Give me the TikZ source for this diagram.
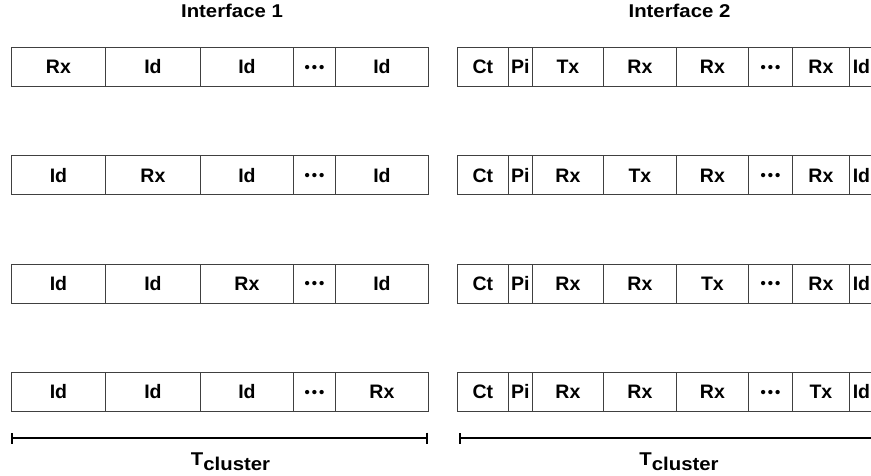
\documentclass[tikz,border=0pt]{standalone}
\usepackage{fontspec}
\setmainfont{Liberation Sans}
\newfontfamily\widefont{Liberation Sans}[FakeStretch=1.1]
\usetikzlibrary{arrows.meta}
\newcommand\ellipsisdots{\raisebox{1.5pt}{\fontsize{15}{15}\selectfont\textbullet\hspace{2pt}\textbullet\hspace{2pt}\textbullet}}
\begin{document}
\begin{tikzpicture}[x=1pt,y=-1pt,
  cell/.style={draw=black!75, line width=0.9pt, minimum height=39pt, inner sep=0pt,
    text height=14pt, text depth=0pt,
    anchor=north west, font=\fontsize{19.5}{19.5}\selectfont\bfseries},
  heading/.style={anchor=base, font=\widefont\fontsize{18.5}{18.5}\selectfont\bfseries},
  span/.style={line width=1.8pt, {Bar[width=11pt,line width=1.8pt]}-{Bar[width=11pt,line width=1.8pt]}}]
\useasboundingbox (0,0) rectangle (871,476);
\clip (0,0) rectangle (871,476);

% headings
\node[heading] (h1) at (232,18) {Interface 1};
\node[heading] (h2) at (679.5,18) {Interface 2};

% Interface 1 frames
\foreach \x/\w/\t [count=\k] in {11/94/Rx, 105/95/Id, 200/93/Id, 293/42/\ellipsisdots, 335/93/Id}
  \node[cell, minimum width=\w pt] (a1c\k) at (\x,47) {\t};
\foreach \x/\w/\t [count=\k] in {11/94/Id, 105/95/Rx, 200/93/Id, 293/42/\ellipsisdots, 335/93/Id}
  \node[cell, minimum width=\w pt] (a2c\k) at (\x,155.5) {\t};
\foreach \x/\w/\t [count=\k] in {11/94/Id, 105/95/Id, 200/93/Rx, 293/42/\ellipsisdots, 335/93/Id}
  \node[cell, minimum width=\w pt] (a3c\k) at (\x,263.5) {\t};
\foreach \x/\w/\t [count=\k] in {11/94/Id, 105/95/Id, 200/93/Id, 293/42/\ellipsisdots, 335/93/Rx}
  \node[cell, minimum width=\w pt] (a4c\k) at (\x,372) {\t};

% Interface 2 frames
\foreach \x/\w/\t [count=\k] in {457/51/Ct, 508/24/Pi, 532/71/Tx, 603/73/Rx, 676/72/Rx, 748/44/\ellipsisdots, 792/57/Rx, 849/24/Id}
  \node[cell, minimum width=\w pt] (b1c\k) at (\x,47) {\t};
\foreach \x/\w/\t [count=\k] in {457/51/Ct, 508/24/Pi, 532/71/Rx, 603/73/Tx, 676/72/Rx, 748/44/\ellipsisdots, 792/57/Rx, 849/24/Id}
  \node[cell, minimum width=\w pt] (b2c\k) at (\x,155.5) {\t};
\foreach \x/\w/\t [count=\k] in {457/51/Ct, 508/24/Pi, 532/71/Rx, 603/73/Rx, 676/72/Tx, 748/44/\ellipsisdots, 792/57/Rx, 849/24/Id}
  \node[cell, minimum width=\w pt] (b3c\k) at (\x,263.5) {\t};
\foreach \x/\w/\t [count=\k] in {457/51/Ct, 508/24/Pi, 532/71/Rx, 603/73/Rx, 676/72/Rx, 748/44/\ellipsisdots, 792/57/Tx, 849/24/Id}
  \node[cell, minimum width=\w pt] (b4c\k) at (\x,372) {\t};

% cluster duration spans
\coordinate (s1a) at (11,438);
\coordinate (s1b) at (428,438);
\coordinate (s2a) at (459,438);
\coordinate (s2b) at (880,438);
\draw[span] (s1a) -- (s1b);
\draw[line width=1.8pt, {Bar[width=11pt,line width=1.8pt]}-] (s2a) -- (s2b);

\node[heading] (t1) at (230.5,465) {T\raisebox{-5pt}{cluster}};
\node[heading] (t2) at (679,465) {T\raisebox{-5pt}{cluster}};
\end{tikzpicture}
\end{document}
